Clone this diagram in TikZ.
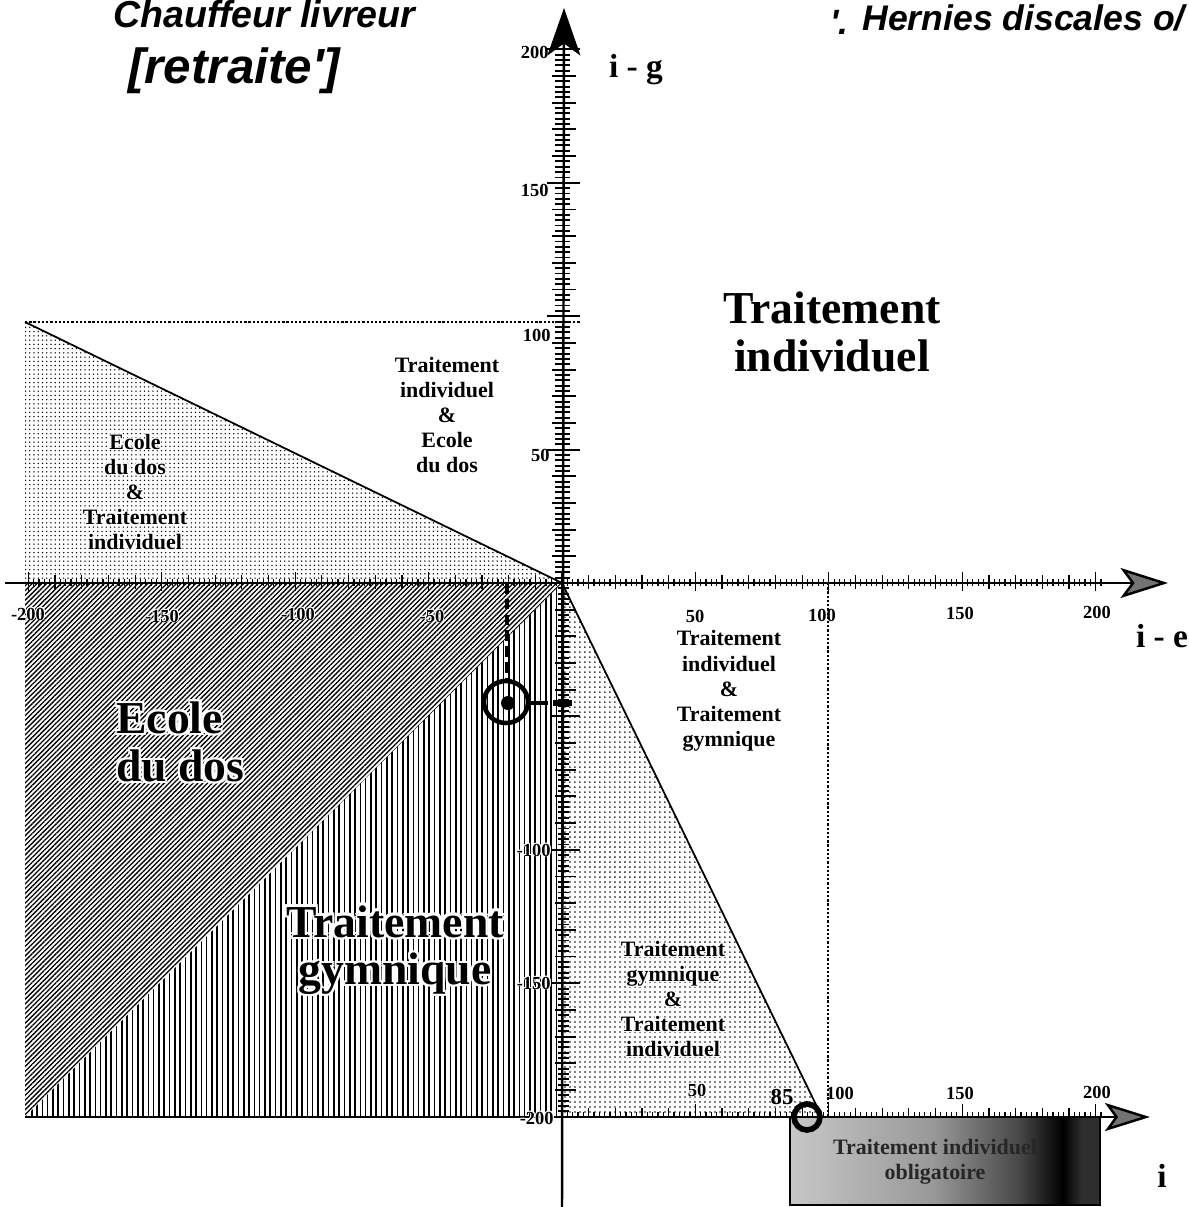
\documentclass[tikz,border=0pt]{standalone}
\usepackage{fontspec}
\setmainfont{Liberation Serif}
\newfontfamily\handfont{Liberation Sans}
\usepackage{graphicx}
\usetikzlibrary{patterns.meta,arrows.meta}
\pgfdeclarehorizontalshading{oblig}{100bp}{color(0bp)=(black!22); color(25bp)=(black!22); color(48bp)=(black!40); color(62bp)=(black!72); color(69bp)=(black); color(72bp)=(black!82); color(100bp)=(black!82)}
\newcommand\halo[2][0.7pt]{\leavevmode
 \rlap{\textcolor{white}{\kern#1#2}}%
 \rlap{\textcolor{white}{\kern-#1#2}}%
 \rlap{\textcolor{white}{\raisebox{#1}{#2}}}%
 \rlap{\textcolor{white}{\raisebox{-#1}{#2}}}%
 \rlap{\textcolor{white}{\kern#1\raisebox{#1}{#2}}}%
 \rlap{\textcolor{white}{\kern-#1\raisebox{#1}{#2}}}%
 \rlap{\textcolor{white}{\kern#1\raisebox{-#1}{#2}}}%
 \rlap{\textcolor{white}{\kern-#1\raisebox{-#1}{#2}}}%
 #2}
\begin{document}
\begin{tikzpicture}[x=0.02cm,y=-0.02cm,
  lbl/.style={font=\bfseries\fontsize{12.5}{14.3}\selectfont, align=center, inner sep=0pt},
  big/.style={font=\bfseries\fontsize{26}{27}\selectfont, align=center, inner sep=0pt},
  ticklbl/.style={font=\bfseries\fontsize{10.5}{10.5}\selectfont, inner sep=0pt},
  axlbl/.style={font=\bfseries\fontsize{19}{19}\selectfont, inner sep=0pt},
  hand/.style={inner sep=0pt, anchor=base west},
  tk/.style={line width=0.7pt},
  tkv/.style={line width=1.1pt},
  axisline/.style={line width=1.4pt},
  edge/.style={line width=1pt},
  guide/.style={line width=0.6pt, dash pattern=on 1.3pt off 1.1pt},
  pen/.style={line width=2.6pt}
]
\useasboundingbox (0,0) rectangle (1189,1207);

% named points
\coordinate (O) at (562,583);
\coordinate (UL) at (25,322);
\coordinate (LLc) at (25,583);
\coordinate (BL) at (25,1117);
\coordinate (B0) at (562,1117);
\coordinate (BR) at (822,1117);

% shaded regions
\fill[pattern={Dots[distance=0.085cm, radius=0.45pt]}] (UL) -- (O) -- (LLc) -- cycle;
\fill[pattern={Lines[angle=45, distance=0.068cm, line width=0.75pt]}] (LLc) -- (O) -- (BL) -- cycle;
\fill[pattern={Lines[angle=90, distance=0.106cm, line width=0.9pt]}] (O) -- (B0) -- (BL) -- cycle;
\fill[pattern={Dots[distance=0.1cm, radius=0.5pt]}] (O) -- (BR) -- (B0) -- cycle;

% boundaries and guides
\draw[edge] (UL) -- (O);
\draw[edge] (O) -- (BR);
\draw[edge] (BL) -- (B0);
\draw[guide] (UL) -- (580,322);
\draw[guide] (828,583) -- (828,1125);

% gradient box
\shade[shading=oblig, draw=black, line width=0.6pt] (790,1117) rectangle (1100,1205);
\node[lbl, text=black!85] (oblig) at (935,1162) {Traitement individuel\\obligatoire};

% ticks: horizontal axis
\foreach \u in {-200,-198,...,202} \draw[tk] ({562+2.668*\u},579) -- ++(0,7);
\foreach \u in {-200,-190,...,200} \draw[tk] ({562+2.668*\u},575) -- ++(0,14);
\foreach \u in {-200,-150,...,200} \draw[tk] ({562+2.668*\u},572) -- ++(0,19);
% ticks: vertical axis upper
\foreach \u in {2,4,...,200} \draw[tkv] (555,{583-2.668*\u}) -- (570,{583-2.668*\u});
\foreach \u in {10,20,...,200} \draw[tkv] (552,{583-2.668*\u}) -- (576,{583-2.668*\u});
\foreach \u in {50,100,...,200} \draw[tkv] (547,{583-2.668*\u}) -- (580,{583-2.668*\u});
% ticks: vertical axis lower
\foreach \u in {2,4,...,200} \draw[tkv] (558,{583+2.668*\u}) -- (569,{583+2.668*\u});
\foreach \u in {10,20,...,200} \draw[tkv] (555,{583+2.668*\u}) -- (576,{583+2.668*\u});
\foreach \u in {50,100,...,200} \draw[tkv] (550,{583+2.668*\u}) -- (580,{583+2.668*\u});
% ticks: bottom axis
\foreach \u in {2,4,...,202} \draw[tk] ({562+2.668*\u},1112) -- ++(0,6);
\foreach \u in {10,20,...,200} \draw[tk] ({562+2.668*\u},1108) -- ++(0,10);
\foreach \u in {50,100,...,200} \draw[tk] ({562+2.668*\u},1104) -- ++(0,14);

% axes
\coordinate (ytop) at (564,8);
\coordinate (ybot) at (562,1207);
\coordinate (xl) at (5,583);
\coordinate (xr) at (1168,583);
\coordinate (ir) at (1150,1117);
\draw[axisline, -{Stealth[length=0.95cm, width=0.66cm, inset=0.24cm]}] (ybot) -- (ytop);
\draw[axisline, -{Stealth[length=0.95cm, width=0.6cm, inset=0.22cm, fill=black!55]}] (xl) -- (xr);
\draw[axisline, -{Stealth[length=0.9cm, width=0.56cm, inset=0.2cm, fill=black!55]}] (B0) -- (ir);

% tick labels
\node[ticklbl, anchor=east] (l200) at (549,52) {200};
\node[ticklbl, anchor=east] (l150) at (549,190) {150};
\node[ticklbl, anchor=east] (l100) at (551,335) {100};
\node[ticklbl, anchor=east] (l50) at (550,455) {50};
\node[ticklbl, anchor=east] (lm100) at (551,850) {\halo[0.5pt]{-100}};
\node[ticklbl, anchor=east] (lm150) at (551,983) {\halo[0.5pt]{-150}};
\node[ticklbl, anchor=east] (lm200) at (554,1118) {\halo[0.5pt]{-200}};
\node[ticklbl] (xm200) at (28,614) {\halo[0.5pt]{-200}};
\node[ticklbl] (xm150) at (162,616) {\halo[0.5pt]{-150}};
\node[ticklbl] (xm100) at (298,614) {\halo[0.5pt]{-100}};
\node[ticklbl] (xm50) at (432,616) {\halo[0.5pt]{-50}};
\node[ticklbl] (x50) at (695,616) {50};
\node[ticklbl] (x100) at (822,615) {100};
\node[ticklbl] (x150) at (960,613) {150};
\node[ticklbl] (x200) at (1097,612) {200};
\node[ticklbl] (b50) at (697,1090) {\halo[0.5pt]{50}};
\node[ticklbl, font=\bfseries\fontsize{13}{13}\selectfont] (b85) at (782,1097) {85};
\node[ticklbl] (b100) at (840,1093) {100};
\node[ticklbl] (b150) at (960,1093) {150};
\node[ticklbl] (b200) at (1097,1092) {200};

% axis labels
\node[axlbl] (ig) at (636,70) {i - g};
\node[axlbl] (ie) at (1162,636) {i - e};
\node[axlbl] (ii) at (1162,1176) {i};

% region labels
\node[big] (ti) at (832,332) {Traitement\\individuel};
\node[lbl] (tied) at (447,415) {Traitement\\individuel\\\&\\Ecole\\du dos};
\node[lbl] (edti) at (135,492) {\halo{Ecole}\\\halo{du dos}\\\halo{\&}\\\halo{Traitement}\\\halo{individuel}};
\node[lbl] (titg) at (729,691) {Traitement\\individuel\\\&\\Traitement\\gymnique};
\node[lbl] (tgti) at (673,999) {\halo{Traitement}\\\halo{gymnique}\\\halo{\&}\\\halo{Traitement}\\\halo{individuel}};
\node[big, align=left, anchor=west] (ed) at (116,742) {\halo[1.2pt]{Ecole}\\\halo[1.2pt]{du dos}};
\node[big] (tg) at (395,950) {\halo[1.2pt]{Traitement}\\\halo[1.2pt]{gymnique}};

% hand-drawn marks
\draw[pen] (506,702) ellipse (22 and 21);
\fill (508,703) circle (7);
\draw[line width=2pt, dash pattern=on 6pt off 3pt] (507,583) -- (507,680);
\draw[line width=2pt] (528,703) -- (548,703);
\draw[line width=3pt] (553,703) -- (572,703);
\draw[line width=3.2pt] (807,1117) circle (13);

% handwriting
\node[hand] (hw1) at (113,27) {\resizebox{6.04cm}{!}{\handfont\bfseries\itshape Chauffeur livreur}};
\node[hand] (hw2) at (128,83) {\resizebox{4.24cm}{!}{\handfont\bfseries\itshape [retraite']}};
\node[hand] (hw3) at (830,34) {\handfont\bfseries\itshape\fontsize{20}{20}\selectfont '.};
\node[hand] (hw4) at (862,30) {\resizebox{6.45cm}{!}{\handfont\bfseries\itshape Hernies discales o/}};
\end{tikzpicture}
\end{document}
